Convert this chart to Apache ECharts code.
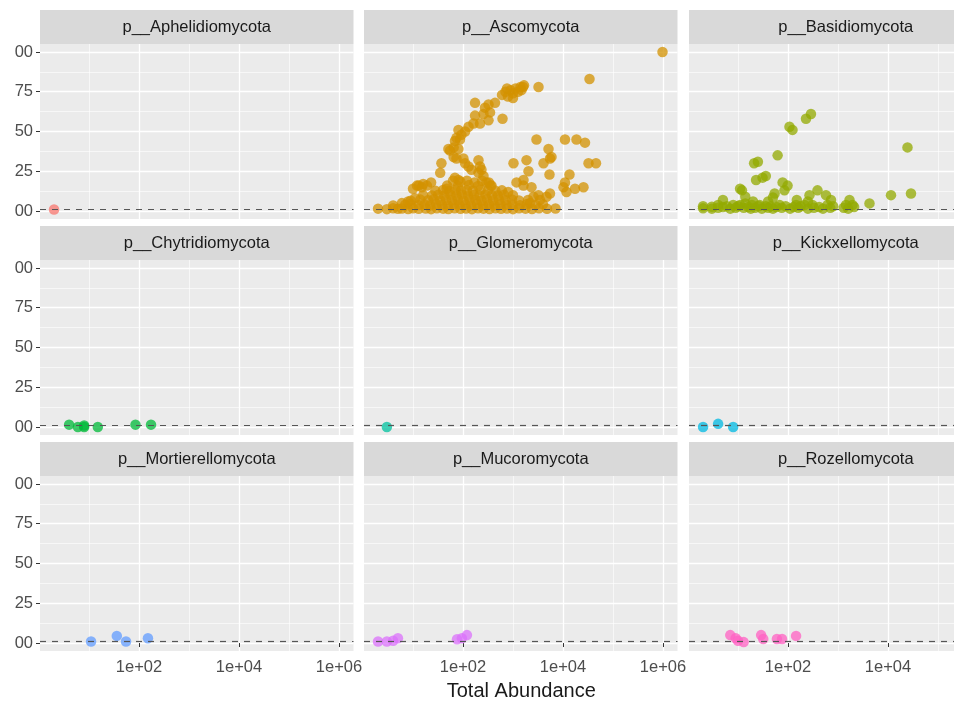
<!DOCTYPE html>
<html><head><meta charset="utf-8">
<script src="https://cdn.jsdelivr.net/npm/echarts@6/dist/echarts.min.js"></script>
<style>html,body{margin:0;padding:0;background:#fff}#chart{width:954px;height:702px}</style>
</head><body><div id="chart"></div>
<script>
// ---- data: [total abundance, value] ----
const phylumNames = ['p__Aphelidiomycota','p__Ascomycota','p__Basidiomycota','p__Chytridiomycota','p__Glomeromycota','p__Kickxellomycota','p__Mortierellomycota','p__Mucoromycota','p__Rozellomycota'];
const phylumColors = ['#F8766D','#D39200','#93AA00','#00BA38','#00C19F','#00B9E3','#619CFF','#DB72FB','#FF61C3'];

const aphelidiomycota = [[2,0.01]];
const ascomycota = [
 [977000,1.0],[33900,0.83],[3240,0.78],
 [603,0.73],[708,0.75],[794,0.72],[891,0.76],[1000,0.74],[1122,0.77],[1259,0.75],[1413,0.78],[1585,0.78],[1479,0.76],[1660,0.79],[759,0.77],[1000,0.71],
 [174,0.68],[275,0.65],[324,0.67],[437,0.68],[257,0.61],[347,0.62],[617,0.58],[324,0.57],[174,0.60],[162,0.55],[219,0.55],
 [129,0.53],[110,0.50],[93,0.48],[81,0.51],[74,0.46],[69,0.44],[87,0.45],
 [55,0.38],[65,0.40],[51,0.39],[81,0.39],[65,0.34],[74,0.33],
 [102,0.33],[110,0.30],[129,0.28],[148,0.26],[204,0.32],[219,0.28],[234,0.26],[257,0.22],[204,0.24],
 [37,0.30],[35,0.24],[23,0.18],[12,0.16],[15,0.15],[19,0.16],
 [1023,0.30],[1622,0.195],[372,0.16],[295,0.18],[47,0.14],[69,0.21],[81,0.195],
 [2951,0.45],[10960,0.45],[18620,0.45],[27540,0.43],[5129,0.39],[5495,0.33],[5888,0.34],[4074,0.30],[32360,0.30],[45710,0.30],[1862,0.32],[2042,0.25],[5370,0.23],[13490,0.23],[10960,0.18],[10230,0.15],[11750,0.12],[17380,0.14],[25700,0.15],
 [1622,0.16],[2344,0.15],[2570,0.09],[3236,0.10],[5495,0.11],[2188,0.05],[3467,0.07],[4677,0.09],
 [1175,0.18],[16,0.17],[13,0.16],[10,0.14],
 [2,0.015],[3,0.012],[4,0.018],[5,0.014],[6,0.016],[8,0.013],[10,0.017],[13,0.014],[18,0.016],[23,0.012],[30,0.018],[40,0.015],[51,0.013],[68,0.017],[89,0.014],[115,0.016],[151,0.012],[200,0.018],[257,0.015],[339,0.013],[447,0.017],[575,0.014],[759,0.016],[1000,0.012],[1318,0.018],[1778,0.015],[2399,0.013],[3311,0.017],[4786,0.014],[7079,0.016],
 [4,0.035],[7,0.04],[9,0.045],[13,0.038],[17,0.042],[22,0.036],[29,0.044],[38,0.04],[50,0.037],[66,0.043],[85,0.039],[112,0.041],[145,0.036],[191,0.044],[251,0.038],[331,0.042],[427,0.037],[562,0.043],[741,0.039],[980,0.04],[1380,0.036],[1905,0.044],[2818,0.038],[3981,0.042],
 [9,0.065],[14,0.072],[20,0.068],[26,0.074],[35,0.066],[46,0.071],[60,0.069],[79,0.073],[102,0.067],[135,0.072],[178,0.07],[234,0.066],[302,0.074],[398,0.068],[525,0.071],[708,0.069],[955,0.073],[1318,0.067],[1995,0.07],
 [16,0.1],[24,0.097],[32,0.103],[42,0.098],[56,0.102],[74,0.099],[95,0.104],[126,0.097],[166,0.101],[214,0.098],[282,0.103],[380,0.1],[501,0.097],[661,0.102],[1000,0.099],
 [28,0.128],[40,0.132],[54,0.127],[71,0.133],[91,0.129],[120,0.131],[158,0.128],[224,0.134],[316,0.13],[447,0.127],
 [48,0.16],[79,0.158],[132,0.163],[200,0.157],[355,0.161],
 [63,0.19],[89,0.185],[120,0.19],[170,0.18],[240,0.19],[330,0.18],[6,0.05],[8,0.06],[11,0.08],[600,0.13],[800,0.12]
];
const basidiomycota = [
 [2,0.017],[3,0.027],[4,0.038],[5,0.069],[6,0.03],[8,0.038],[11,0.038],[11,0.14],[12,0.13],[14,0.048],[19,0.038],[21,0.30],[23,0.195],[25,0.31],[27,0.038],[31,0.21],[36,0.22],[36,0.03],[54,0.11],[62,0.35],[68,0.038],[78,0.18],[85,0.13],[98,0.16],[107,0.53],[123,0.51],[145,0.038],[214,0.038],[229,0.58],[288,0.61],[269,0.10],[309,0.038],[389,0.13],[575,0.10],[617,0.038],[724,0.069],[1445,0.038],[1698,0.069],[1950,0.038],[4266,0.048],[11480,0.10],[24550,0.40],[28840,0.11],
 [2,0.03],[3,0.015],[4,0.02],[5,0.025],[7,0.015],[9,0.02],[10,0.03],[13,0.02],[16,0.025],[18,0.015],[22,0.02],[26,0.03],[30,0.015],[40,0.02],[45,0.03],[50,0.015],[58,0.025],[75,0.02],[90,0.03],[110,0.015],[130,0.025],[160,0.02],[180,0.03],[250,0.015],[330,0.02],[420,0.025],[500,0.015],[700,0.02],[800,0.03],[1300,0.02],[1600,0.015],[2100,0.025],
 [14,0.09],[50,0.085],[20,0.06],[40,0.06],[150,0.07],[250,0.06]
];
const chytridiomycota = [[4,0.015],[6,0.0],[8,0.01],[8,0.0],[15,0.0],[85,0.015],[174,0.015]];
const glomeromycota = [[3,0.0]];
const kickxellomycota = [[2,0.0],[4,0.02],[8,0.0]];
const mortierellomycota = [[11,0.01],[36,0.045],[55,0.01],[151,0.03]];
const mucoromycota = [[2,0.01],[3,0.01],[4,0.014],[5,0.03],[76,0.024],[95,0.03],[120,0.05]];
const rozellomycota = [[7,0.05],[9,0.03],[10,0.014],[13,0.006],[29,0.05],[32,0.025],[60,0.025],[76,0.025],[145,0.045]];

const phylumData = [aphelidiomycota, ascomycota, basidiomycota, chytridiomycota, glomeromycota, kickxellomycota, mortierellomycota, mucoromycota, rozellomycota];

const yTickValues = [0, 0.25, 0.5, 0.75, 1];
const yTickLabels = ['00', '25', '50', '75', '00'];
const yMinorValues = [0.125, 0.375, 0.625, 0.875];
const xTickExponents = [2, 4, 6];
const xTickLabels = ['1e+02', '1e+04', '1e+06'];
const xMinorExponents = [1, 3, 5];
const thresholdLine = 0.01;
const xTitle = 'Total Abundance';

// ---- layout ----
const FONT = '"Liberation Sans", Arial, sans-serif';
const colLeft = [40, 364, 689], rowTop = [44, 260, 476];
const PW = 313.5, PH = 175, STRIP = 34;
const X_MIN = 0.02, X_MAX = 6.29, Y_MIN = -0.05, Y_MAX = 1.05;

const grids = [], xAxes = [], yAxes = [], series = [], graphics = [];
phylumData.forEach((arr, i) => {
  const r = Math.floor(i / 3), c = i % 3;
  grids.push({left: colLeft[c], top: rowTop[r], width: PW, height: PH, show: true,
    backgroundColor: '#EBEBEB', borderWidth: 0, containLabel: false, outerBoundsMode: 'none'});
  const bottom = r === 2, leftCol = c === 0;
  xAxes.push({type: 'value', gridIndex: i, min: X_MIN, max: X_MAX,
    axisLine: {show: false},
    axisTick: {show: bottom, customValues: xTickExponents, length: 4, lineStyle: {color: '#333333', width: 1}},
    axisLabel: {show: bottom, customValues: c === 2 ? xTickExponents.slice(0, 2) : xTickExponents, margin: 8,
      color: '#4D4D4D', fontSize: 16.5, fontFamily: FONT,
      formatter: v => { const k = xTickExponents.findIndex(t => Math.abs(t - v) < 1e-6); return k < 0 ? '' : xTickLabels[k]; }},
    splitLine: {show: true, lineStyle: {color: '#FFFFFF', width: 1.3}}});
  xAxes.push({type: 'value', gridIndex: i, min: X_MIN, max: X_MAX,
    axisLine: {show: false}, axisTick: {show: false, customValues: xMinorExponents},
    axisLabel: {show: false, customValues: xMinorExponents},
    splitLine: {show: true, lineStyle: {color: '#FFFFFF', width: 0.6}}});
  yAxes.push({type: 'value', gridIndex: i, min: Y_MIN, max: Y_MAX,
    axisLine: {show: false},
    axisTick: {show: leftCol, customValues: yTickValues, length: 4, lineStyle: {color: '#333333', width: 1}},
    axisLabel: {show: leftCol, customValues: yTickValues, margin: 7, color: '#4D4D4D', fontSize: 16.5, fontFamily: FONT,
      formatter: v => { const k = yTickValues.findIndex(t => Math.abs(t - v) < 1e-6); return k < 0 ? '' : yTickLabels[k]; }},
    splitLine: {show: true, lineStyle: {color: '#FFFFFF', width: 1.3}}});
  yAxes.push({type: 'value', gridIndex: i, min: Y_MIN, max: Y_MAX,
    axisLine: {show: false}, axisTick: {show: false, customValues: yMinorValues},
    axisLabel: {show: false, customValues: yMinorValues},
    splitLine: {show: true, lineStyle: {color: '#FFFFFF', width: 0.6}}});
  series.push({type: 'scatter', xAxisIndex: 2 * i, yAxisIndex: 2 * i,
    data: arr.map(d => [Math.log10(d[0]), d[1]]),
    symbolSize: 10.5, itemStyle: {color: phylumColors[i], opacity: 0.75},
    markLine: {silent: true, symbol: ['none', 'none'], label: {show: false},
      lineStyle: {color: '#555555', width: 1.2, type: [6, 6]},
      data: [{yAxis: thresholdLine}]}});
  graphics.push({type: 'rect', shape: {x: colLeft[c], y: rowTop[r] - STRIP, width: PW, height: STRIP},
    style: {fill: '#D9D9D9'}, silent: true});
  graphics.push({type: 'text', x: colLeft[c] + PW / 2, y: rowTop[r] - STRIP / 2,
    style: {text: phylumNames[i], fill: '#1A1A1A', font: '16.5px ' + FONT, textAlign: 'center', textVerticalAlign: 'middle'}});
});
graphics.push({type: 'text', x: colLeft[0] + (colLeft[2] + PW - colLeft[0]) / 2, y: 691,
  style: {text: xTitle, fill: '#1A1A1A', font: '20px ' + FONT, textAlign: 'center', textVerticalAlign: 'middle'}});

const chart = echarts.init(document.getElementById('chart'), null, {renderer: 'canvas'});
chart.setOption({
  animation: false, backgroundColor: '#FFFFFF',
  grid: grids, xAxis: xAxes, yAxis: yAxes, series: series, graphic: graphics
});
</script></body></html>
